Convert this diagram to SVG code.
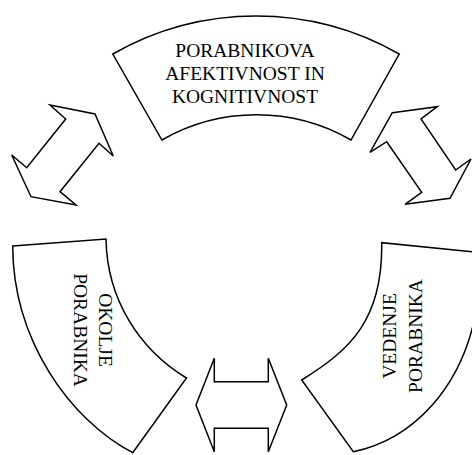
<svg xmlns="http://www.w3.org/2000/svg" width="472" height="455" viewBox="0 0 472 455">
<style>
.s{fill:#fff;stroke:#000;stroke-width:1.5;stroke-linejoin:miter}
.t{font-family:"Liberation Serif","Times New Roman",serif;font-size:19.5px;fill:#000;text-anchor:middle}
</style>
<rect width="472" height="455" fill="#fff"/>
<g id="connectors">
<polygon class="s" points="50,105 95,114 113.3,156 99,143.3 60,191.7 76,205 31,196.7 11.7,155 26.7,167.7 65.7,119"/>
<polygon class="s" points="392.3,112.7 437.3,106.7 421,119 455.7,170 471,159 450,198.3 405,204.3 421.7,192.3 386.7,141.7 370,152.3"/>
<polygon class="s" points="196,405 214.3,358.3 214.3,381.7 268.3,381.7 268.3,358.3 286.7,405 268.3,451.7 268.3,428.3 214.3,428.3 214.3,451.7"/>
</g>
<g id="top">
<path class="s" d="M112.8,54 A289,289 0 0 1 399.2,54 L351,140 A190,190 0 0 0 161.9,140 Z"/>
<text class="t" x="245" y="56.7">PORABNIKOVA</text>
<text class="t" x="245" y="80">AFEKTIVNOST IN</text>
<text class="t" x="245" y="103.3">KOGNITIVNOST</text>
</g>
<g id="left">
<path class="s" d="M12.7,246 L106,239 C107,300 140,350 186.5,378 L132.7,452.7 C70,420 13,340 12.7,246 Z"/>
<text class="t" transform="translate(99.3,330) rotate(90)">OKOLJE</text>
<text class="t" transform="translate(74.3,330) rotate(90)">PORABNIKA</text>
</g>
<g id="right">
<path class="s" d="M381.7,242.7 C383,320 350,350 301.7,380 L353.3,451.7 C410,440 465,390 478,300 L480,252.5 Z"/>
<text class="t" transform="translate(396,336) rotate(-90)">VEDENJE</text>
<text class="t" transform="translate(421.7,336) rotate(-90)">PORABNIKA</text>
</g>
</svg>
